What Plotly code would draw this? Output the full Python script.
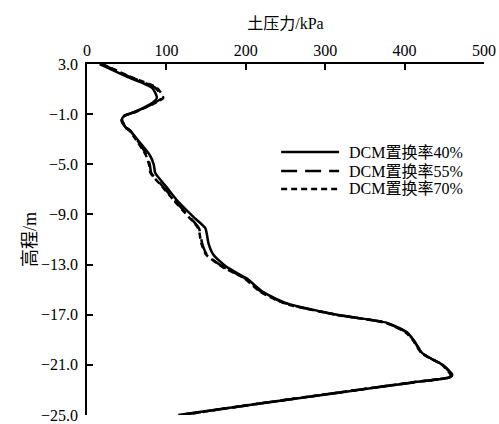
import plotly.graph_objects as go

# Elevation (m) sample points shared by the three curves
elev = [3.0, 2.0, 1.1, 0.3, -0.2, -0.83, -1.15, -1.4, -2.0, -2.3, -3.06, -4.26, -5.0, -5.7,
        -6.8, -7.85, -9.2, -10.1, -11.3, -12.2, -13.2, -14.1, -15.2, -16.1, -17.0, -17.65,
        -18.4, -19.0, -20.05, -20.45, -21.0, -21.8, -22.0, -22.4, -23.2, -24.17, -25.0]

# Earth pressure (kPa) for each replacement ratio
p40 = [16, 50, 82, 88, 80, 60, 47, 44, 48, 54, 64, 79, 84, 86, 100, 113, 134, 149, 153, 159,
       176, 201, 222, 252, 315, 378, 403, 411, 422, 432, 448, 460, 457, 411, 319, 209, 115]
p55 = [18, 53, 86, 94, 82, 60, 46, 44, 48, 54, 63, 75, 79, 81, 96, 110, 129, 141, 145, 151,
       172, 199, 220, 250, 314, 377, 402, 411, 422, 432, 448, 459, 456, 410, 318, 208, 118]
p70 = [19, 54, 88, 96, 83, 61, 46, 43, 47, 53, 62, 74, 78, 80, 95, 109, 128, 140, 144, 150,
       171, 198, 219, 249, 313, 376, 401, 410, 421, 431, 447, 458, 455, 409, 317, 207, 120]

names = ["DCM置换率40%", "DCM置换率55%", "DCM置换率70%"]
dashes = ["solid", "16px,8px", "6px,4px"]
x_ticks = [0, 100, 200, 300, 400, 500]
y_ticks = [3.0, -1.0, -5.0, -9.0, -13.0, -17.0, -21.0, -25.0]
y_ticktext = ["3.0", "\u22121.0", "\u22125.0", "\u22129.0", "\u221213.0", "\u221217.0",
              "\u221221.0", "\u221225.0"]

FONT = "'Liberation Serif', 'Times New Roman', 'Noto Sans CJK SC', serif"

fig = go.Figure()
for xs, nm, dash in zip([p40, p55, p70], names, dashes):
    fig.add_trace(go.Scatter(
        x=xs, y=elev, name=nm, mode="lines", showlegend=False,
        line=dict(color="black", width=2.5, dash=dash, shape="spline", smoothing=0.6),
    ))

# Manual legend (sample line + label), placed in plot-area (paper) coordinates
leg_x0, leg_x1, leg_tx = 0.489, 0.635, 0.657
leg_rows = [0.749, 0.695, 0.644]
for nm, dash, ly in zip(names, dashes, leg_rows):
    fig.add_shape(type="line", xref="paper", yref="paper", x0=leg_x0, x1=leg_x1, y0=ly, y1=ly,
                  line=dict(color="black", width=2.5, dash=dash))
    fig.add_annotation(xref="paper", yref="paper", x=leg_tx, y=ly, text=nm, showarrow=False,
                       xanchor="left", yanchor="middle", font=dict(size=16), borderpad=0)

fig.update_layout(
    width=499, height=424,
    margin=dict(l=87, r=15, t=64, b=9),
    paper_bgcolor="white", plot_bgcolor="white",
    font=dict(family=FONT, size=16, color="black"),
    showlegend=False,
    xaxis=dict(side="top", range=[0, 500], tickvals=x_ticks, automargin=False,
               ticks="inside", ticklen=6, tickwidth=1.5, tickcolor="black",
               showline=True, linecolor="black", linewidth=1.5, showgrid=False,
               zeroline=False, mirror=False,
               title=dict(text="土压力/kPa", standoff=8, font=dict(size=16))),
    yaxis=dict(range=[-25, 3], tickvals=y_ticks, ticktext=y_ticktext, automargin=False,
               ticks="inside", ticklen=6, tickwidth=1.5, tickcolor="black",
               showline=True, linecolor="black", linewidth=1.5, showgrid=False,
               zeroline=False, mirror=False, ticklabelstandoff=4,
               title=dict(text="高程/m", standoff=0, font=dict(size=18))),
)

fig.write_html("out.html", config={"displayModeBar": False},
               post_script="document.body.style.margin='0';document.body.style.padding='0';")
